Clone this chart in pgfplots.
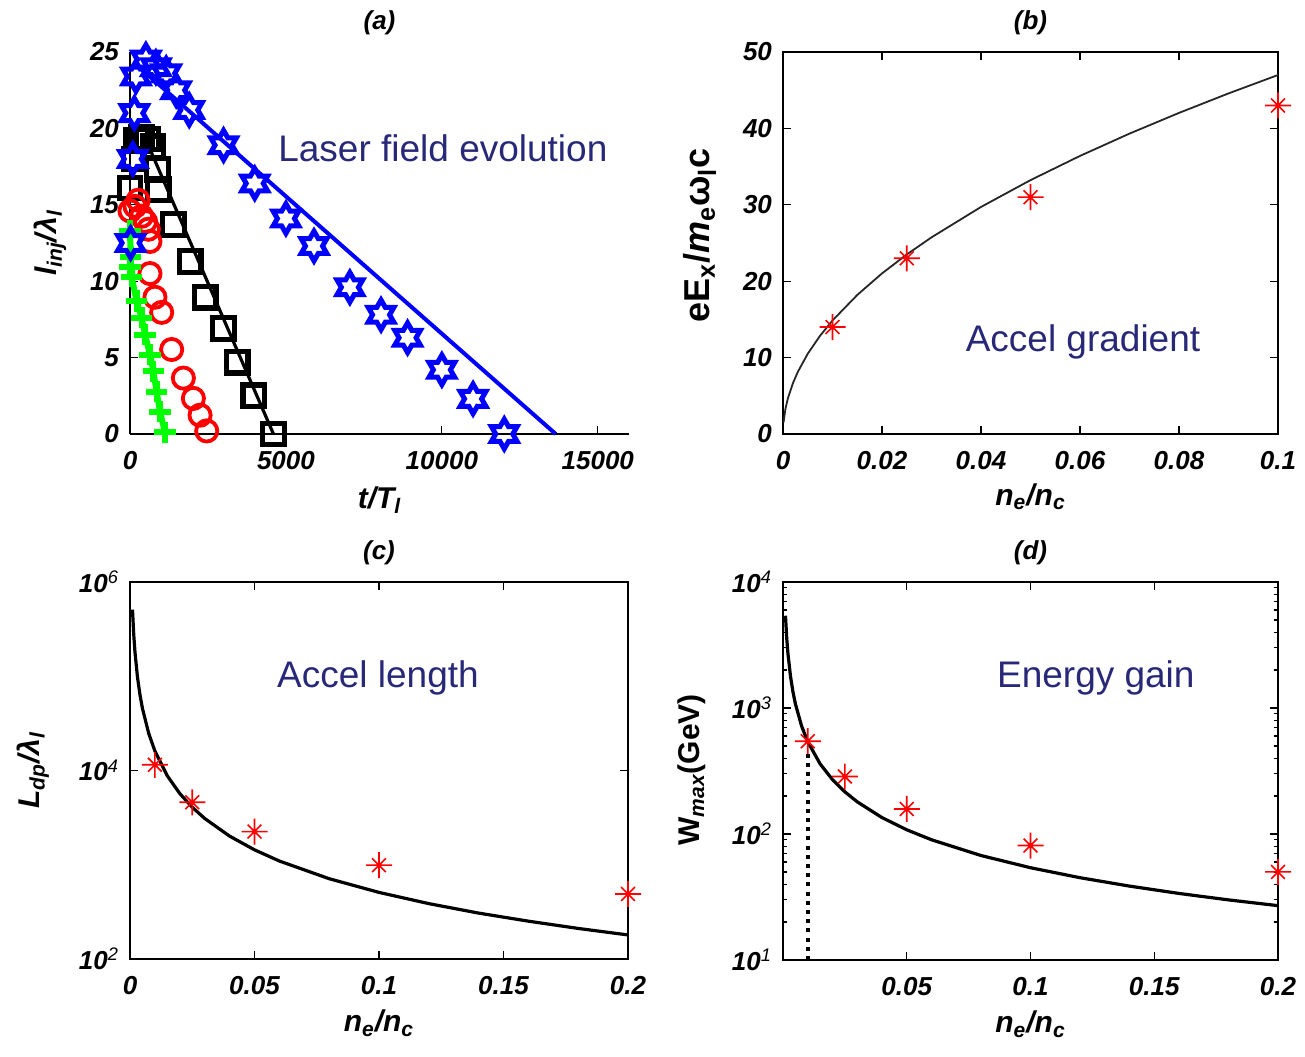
\documentclass[border=0pt]{standalone}
\usepackage{fontspec}
\setmainfont{Liberation Sans}
\usepackage{pgfplots}
\pgfplotsset{compat=1.18}

\definecolor{navy}{RGB}{40,40,120}
\newcommand\tickfont{\fontsize{13}{15}\selectfont\bfseries\itshape}
\newcommand\labfont{\fontsize{15}{17}\selectfont\bfseries\itshape}
\newcommand\notefont{\fontsize{18.5}{21}\selectfont}

% MATLAB-like markers
\pgfdeclareplotmark{hexa}{%
  \pgfpathmoveto{\pgfpointpolar{90}{\pgfplotmarksize}}%
  \pgfpathlineto{\pgfpointpolar{120}{0.577\pgfplotmarksize}}%
  \pgfpathlineto{\pgfpointpolar{150}{\pgfplotmarksize}}%
  \pgfpathlineto{\pgfpointpolar{180}{0.577\pgfplotmarksize}}%
  \pgfpathlineto{\pgfpointpolar{210}{\pgfplotmarksize}}%
  \pgfpathlineto{\pgfpointpolar{240}{0.577\pgfplotmarksize}}%
  \pgfpathlineto{\pgfpointpolar{270}{\pgfplotmarksize}}%
  \pgfpathlineto{\pgfpointpolar{300}{0.577\pgfplotmarksize}}%
  \pgfpathlineto{\pgfpointpolar{330}{\pgfplotmarksize}}%
  \pgfpathlineto{\pgfpointpolar{0}{0.577\pgfplotmarksize}}%
  \pgfpathlineto{\pgfpointpolar{30}{\pgfplotmarksize}}%
  \pgfpathlineto{\pgfpointpolar{60}{0.577\pgfplotmarksize}}%
  \pgfpathclose
  \pgfusepathqstroke
}
\pgfdeclareplotmark{ast8}{%
  \pgfpathmoveto{\pgfqpoint{-\pgfplotmarksize}{0pt}}%
  \pgfpathlineto{\pgfqpoint{\pgfplotmarksize}{0pt}}%
  \pgfpathmoveto{\pgfqpoint{0pt}{-\pgfplotmarksize}}%
  \pgfpathlineto{\pgfqpoint{0pt}{\pgfplotmarksize}}%
  \pgfpathmoveto{\pgfpointpolar{45}{0.75\pgfplotmarksize}}%
  \pgfpathlineto{\pgfpointpolar{225}{0.75\pgfplotmarksize}}%
  \pgfpathmoveto{\pgfpointpolar{135}{0.75\pgfplotmarksize}}%
  \pgfpathlineto{\pgfpointpolar{315}{0.75\pgfplotmarksize}}%
  \pgfusepathqstroke
}

\tikzset{note/.style={font=\notefont, text=navy, anchor=center}}
\pgfplotsset{
  every axis/.append style={
    scale only axis, clip=false, anchor=south west,
    tick align=inside,
    axis line style={line width=0.7pt},
    major tick length=4pt, minor tick length=2pt,
    every tick/.style={black, line width=0.6pt},
    ticklabel style={font=\tickfont},
    xticklabel style={yshift=-5pt},
    yticklabel style={xshift=-2pt},
    scaled x ticks=false, scaled y ticks=false,
    /pgf/number format/assume math mode=true,
    /pgf/number format/1000 sep={},
    label style={font=\labfont},
    title style={font=\tickfont, at={(0.5,1)}, anchor=center, yshift=8.5pt},
  },
  redstar/.style={only marks, red, mark=ast8, mark size=6.5pt, line width=0.8pt},
}

\begin{document}
\begin{tikzpicture}
\useasboundingbox (0,0) rectangle (652.5pt,528pt);

% (a)
\begin{axis}[
  at={(65pt,311pt)}, width=249.5pt, height=191pt,
  axis lines*=left,
  xmin=0, xmax=16000, ymin=0, ymax=25,
  xtick={0,5000,10000,15000}, ytick={0,5,...,25},
  title={(a)},
  xlabel={t/T\textsubscript{l}},
  ylabel={l\textsubscript{inj}/λ\textsubscript{l}},
  xlabel style={at={(axis description cs:0.5,-0.173)}, anchor=center},
  ylabel style={at={(axis description cs:-0.16,0.5)}, anchor=center},
]
\addplot [black, line width=1.6pt] coordinates {(500,19.3) (4600,0)};
\addplot [only marks, black, mark=square, mark size=5.4pt, line width=2.6pt] coordinates {
(0,16.1) (130,18.0) (220,19.2) (380,19.4) (560,19.3) (740,18.8) (880,17.3)
(910,16.0) (1390,13.7) (1930,11.3) (2410,8.95) (3000,6.9) (3440,4.7) (3970,2.5) (4600,0)};
\addplot [only marks, red, mark=o, mark size=5.3pt, line width=1.9pt] coordinates {
(0,14.6) (160,14.9) (260,15.3) (373,14.25) (500,13.9) (590,13.4) (640,12.6) (640,10.5)
(800,8.95) (1016,7.96) (1336,5.53) (1711,3.66) (2032,2.33) (2247,1.23) (2460,0.2)};
\addplot [green, line width=3pt, mark=+, mark size=5.3pt] coordinates {
(0,13.3) (20,11.6) (0,10.9) (51,10.3) (212,8.7) (373,7.6) (481,6.5) (642,5.2)
(748,4.1) (854,2.77) (963,1.45) (1123,0.1)};
\addplot [blue, line width=2pt] coordinates {(300,24.0) (13650,0)};
\addplot [only marks, blue, mark=hexa, mark size=7.4pt, line width=2.5pt] coordinates {
(20,12.5) (90,18.0) (140,21.0) (190,23.4) (510,24.5) (830,24.0) (1160,23.6) (1480,22.5)
(1900,21.2) (3000,18.9) (4000,16.4) (5000,14.1) (5900,12.3) (7050,9.6) (8050,7.8)
(8900,6.3) (10000,4.2) (11000,2.3) (12000,0)};
\node [note] at (axis description cs:0.627,0.749) {Laser field evolution};
\end{axis}

% (b)
\begin{axis}[
  at={(391.5pt,311pt)}, width=247.5pt, height=191pt,
  xmin=0, xmax=0.1, ymin=0, ymax=50,
  xtick={0,0.02,...,0.1}, ytick={0,10,...,50},
  xticklabel style={/pgf/number format/.cd, fixed, precision=2},
  title={(b)},
  xlabel={n\textsubscript{e}/n\textsubscript{c}},
  ylabel={\fontsize{18}{20}\selectfont\upshape eE\textsubscript{x}/\textit{m}\textsubscript{e}ω\textsubscript{l}c},
  xlabel style={at={(axis description cs:0.5,-0.165)}, anchor=center},
  ylabel style={at={(axis description cs:-0.168,0.52)}, anchor=center},
]
\addplot [black!85, line width=0.9pt] coordinates {
(0.0001,1.49) (0.0005,3.32) (0.001,4.70) (0.002,6.65) (0.003,8.14) (0.005,10.51)
(0.0075,12.87) (0.01,14.86) (0.015,18.20) (0.02,21.02) (0.025,23.50) (0.03,25.74)
(0.04,29.72) (0.05,33.23) (0.06,36.40) (0.07,39.32) (0.08,42.03) (0.09,44.58) (0.1,46.99)};
\addplot [redstar] coordinates {(0.01,14) (0.025,23) (0.05,31) (0.1,43)};
\node [note] at (axis description cs:0.606,0.241) {Accel gradient};
\end{axis}

% (c)
\begin{axis}[
  at={(65pt,48.5pt)}, width=249pt, height=188.5pt,
  ymode=log, yminorticks=false,
  xmin=0, xmax=0.2, ymin=100, ymax=1e6,
  xtick={0,0.05,...,0.2},
  xticklabel style={/pgf/number format/.cd, fixed, precision=2},
  ytick={1e2,1e4,1e6},
  yticklabels={10\textsuperscript{\mdseries 2},10\textsuperscript{\mdseries 4},10\textsuperscript{\mdseries 6}},
  title={(c)},
  xlabel={n\textsubscript{e}/n\textsubscript{c}},
  ylabel={L\textsubscript{dp}/λ\textsubscript{l}},
  xlabel style={at={(axis description cs:0.5,-0.17)}, anchor=center},
  ylabel style={at={(axis description cs:-0.195,0.5)}, anchor=center},
]
\addplot [black, line width=1.6pt] coordinates {
(0.001,509000) (0.0015,277150) (0.002,180000) (0.003,97990) (0.004,63640) (0.005,45530)
(0.0075,24790) (0.01,16100) (0.015,8764) (0.02,5693) (0.025,4073) (0.03,3098)
(0.04,2012) (0.05,1440) (0.06,1095) (0.08,711) (0.1,509) (0.12,387) (0.14,307)
(0.16,252) (0.18,211) (0.2,180)};
\addplot [redstar] coordinates {(0.01,11500) (0.025,4600) (0.05,2250) (0.1,990) (0.2,490)};
\node [note] at (axis description cs:0.498,0.745) {Accel length};
\end{axis}

% (d)
\begin{axis}[
  at={(391.5pt,48pt)}, width=247.5pt, height=189pt,
  ymode=log,
  xmin=0, xmax=0.2, ymin=10, ymax=1e4,
  xtick={0.05,0.1,0.15,0.2},
  xticklabel style={/pgf/number format/.cd, fixed, precision=2},
  ytick={1e1,1e2,1e3,1e4},
  yticklabels={10\textsuperscript{\mdseries 1},10\textsuperscript{\mdseries 2},10\textsuperscript{\mdseries 3},10\textsuperscript{\mdseries 4}},
  title={(d)},
  xlabel={n\textsubscript{e}/n\textsubscript{c}},
  ylabel={\upshape W\textsubscript{\itshape max}(GeV)},
  xlabel style={at={(axis description cs:0.5,-0.17)}, anchor=center},
  ylabel style={at={(axis description cs:-0.184,0.503)}, anchor=center},
]
\addplot [black, line width=1.8pt, dash pattern=on 2pt off 2.6pt] coordinates {(0.01,10) (0.01,470)};
\addplot [black, line width=1.6pt] coordinates {
(0.001,5400) (0.0015,3600) (0.002,2700) (0.003,1800) (0.004,1350) (0.005,1080)
(0.0075,720) (0.01,540) (0.015,360) (0.02,270) (0.025,216) (0.03,180) (0.04,135)
(0.05,108) (0.06,90) (0.08,67.5) (0.1,54) (0.12,45) (0.14,38.6) (0.16,33.75)
(0.18,30) (0.2,27)};
\addplot [redstar] coordinates {(0.01,545) (0.025,286) (0.05,158) (0.1,81) (0.2,50)};
\node [note] at (axis description cs:0.632,0.746) {Energy gain};
\end{axis}
\end{tikzpicture}
\end{document}
